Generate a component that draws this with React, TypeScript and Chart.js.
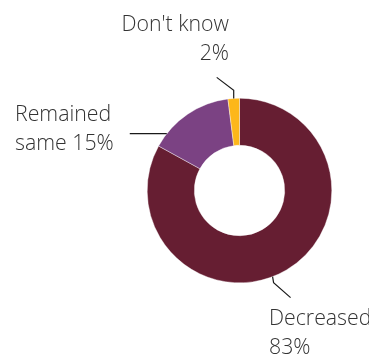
import React, { useEffect, useRef } from "react";
import { Chart, registerables } from "chart.js";

Chart.register(...registerables);

const categories = ["Decreased", "Remained same", "Don't know"];
const values = [83, 15, 2];
const labelLines = [["Decreased", "83%"], ["Remained", "same 15%"], ["Don't know", "2%"]];
const colors = ["#661E32", "#7B4283", "#FDB71A"];

// label layout: anchor angle on the outer edge (deg, 0 = 3 o'clock, clockwise), leader path offsets, text placement
const labelLayout = [
  { angle: 69, path: [[0, 0], [1, 6], [18, 21]], textX: 269, textY: 325, align: "left" },
  { angle: 218, path: [[0, 0], [-37, 0]], textX: 15, textY: 121, align: "left" },
  { angle: null, path: [[0, 0], [0, -8], [-17, -21]], textX: 229, textY: 31, align: "right" },
];

const labelPlugin = {
  id: "outLabels",
  afterDraw(chart: any) {
    const ctx = chart.ctx;
    const meta = chart.getDatasetMeta(0);
    ctx.save();
    ctx.font = "300 21.3px 'Open Sans', 'Noto Sans', sans-serif";
    ctx.fillStyle = "#333333";
    ctx.strokeStyle = "#1a1a1a";
    ctx.lineWidth = 1.2;
    meta.data.forEach((arc: any, i: number) => {
      const lay = labelLayout[i];
      const p = arc.getProps(["x", "y", "startAngle", "endAngle", "outerRadius"], true);
      const a = lay.angle === null ? (p.startAngle + p.endAngle) / 2 : (lay.angle * Math.PI) / 180;
      const ax = p.x + p.outerRadius * Math.cos(a);
      const ay = p.y + p.outerRadius * Math.sin(a);
      ctx.beginPath();
      lay.path.forEach(([dx, dy], k) => {
        if (k === 0) ctx.moveTo(ax + dx, ay + dy);
        else ctx.lineTo(ax + dx, ay + dy);
      });
      ctx.stroke();
      ctx.textAlign = lay.align;
      ctx.textBaseline = "alphabetic";
      labelLines[i].forEach((t, k) => {
        ctx.fillText(t, lay.textX, lay.textY + k * 29);
      });
    });
    ctx.restore();
  },
};

export default function App() {
  const ref = useRef<HTMLCanvasElement>(null);
  useEffect(() => {
    const chart = new Chart(ref.current!, {
      type: "doughnut",
      data: {
        labels: categories,
        datasets: [
          {
            data: values,
            backgroundColor: colors,
            borderColor: "#ffffff",
            borderWidth: 0.4,
          },
        ],
      },
      options: {
        responsive: false,
        animation: false,
        cutout: "49%",
        layout: { padding: { left: 147, right: 37, top: 98, bottom: 71 } },
        plugins: { legend: { display: false }, tooltip: { enabled: false } },
      },
      plugins: [labelPlugin],
    });
    return () => chart.destroy();
  }, []);
  return (
    <div style={{ position: "fixed", left: 0, top: 0, width: 369, height: 354, background: "#fff" }}>
      <canvas ref={ref} width={369} height={354} />
    </div>
  );
}
